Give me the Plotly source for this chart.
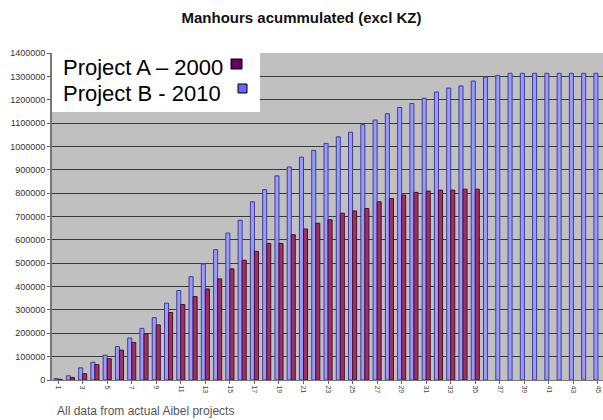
import plotly.graph_objects as go

# ---------------- data ----------------
categories = list(range(1, 46))
project_b_2010 = [6000, 18000, 52000, 76000, 106000, 143000, 180000, 221000, 267000, 329000,
                  383000, 442000, 497000, 558000, 629000, 684000, 763000, 815000, 874000, 912000,
                  954000, 983000, 1013000, 1041000, 1061000, 1093000, 1113000, 1140000, 1167000, 1184000,
                  1206000, 1233000, 1250000, 1259000, 1280000, 1297000, 1304000, 1313000, 1313000, 1313000,
                  1313000, 1313000, 1313000, 1313000, 1313000]
project_a_2000 = [3000, 11000, 27000, 66000, 91000, 128000, 161000, 198000, 236000, 289000,
                  323000, 357000, 390000, 433000, 476000, 513000, 551000, 585000, 585000, 622000,
                  647000, 671000, 686000, 714000, 724000, 734000, 763000, 777000, 792000, 803000,
                  809000, 813000, 813000, 817000, 817000]
x_tick_labels = [str(v) for v in range(1, 46, 2)]
y_tick_values = list(range(0, 1400001, 100000))

title_text = "Manhours acummulated (excl KZ)"
label_a = "Project A \u2013 2000"
label_b = "Project B - 2010"
footnote = "All data from actual Aibel projects"

# ---------------- layout geometry ----------------
W, H = 603, 420
L, R, T, B = 52, 0, 53, 40
PW, PH = W - L - R, H - T - B


def px(x):
    return (x - L) / PW


def py(y):
    return (H - B - y) / PH


FONT = "Liberation Sans, Arial, sans-serif"

fig = go.Figure()
fig.add_trace(go.Bar(
    x=categories[:len(project_b_2010)], y=project_b_2010, name=label_b,
    marker=dict(color="#9999ff", line=dict(color="#3f3f8f", width=1)),
))
fig.add_trace(go.Bar(
    x=categories[:len(project_a_2000)], y=project_a_2000, name=label_a,
    marker=dict(color="#993366", line=dict(color="#4a1030", width=1)),
))

fig.update_layout(
    width=W, height=H,
    margin=dict(l=L, r=R, t=T, b=B, pad=0),
    paper_bgcolor="white",
    plot_bgcolor="#c0c0c0",
    barmode="group",
    bargap=0.34,
    bargroupgap=0.0,
    showlegend=False,
    font=dict(family=FONT, color="#333333"),
    title=dict(text=title_text, x=0.5, xref="container", xanchor="center",
               y=1 - 18 / H, yref="container", yanchor="middle",
               font=dict(family=FONT, size=15, color="#111111", weight="bold")),
    xaxis=dict(
        range=[0.5, 45.41],
        tickmode="array",
        tickvals=list(range(1, 46, 2)),
        ticktext=x_tick_labels,
        tickangle=90,
        tickfont=dict(size=7, color="#444444"),
        ticks="outside", ticklen=3, tickcolor="#666666",
        ticklabeloverflow="allow",
        showgrid=False, zeroline=False,
        showline=True, linecolor="#777777", linewidth=1,
        automargin=False,
    ),
    yaxis=dict(
        range=[0, 1400000],
        tickmode="array",
        tickvals=y_tick_values,
        ticktext=[str(v) for v in y_tick_values],
        tickfont=dict(size=9, color="#333333"),
        ticks="outside", ticklen=3, tickcolor="#666666",
        showgrid=True, gridcolor="#3a3a3a", gridwidth=1.3,
        zeroline=False,
        showline=True, linecolor="#777777", linewidth=2,
        automargin=False,
    ),
)

# legend box drawn as a text box, like the original
fig.add_shape(type="rect", xref="paper", yref="paper",
              x0=px(52), x1=px(260), y0=py(112), y1=py(40),
              fillcolor="white", line=dict(width=0), layer="above")
fig.add_shape(type="rect", xref="paper", yref="paper",
              x0=px(231), x1=px(242), y0=py(69), y1=py(59),
              fillcolor="#660066", line=dict(color="black", width=1), layer="above")
fig.add_shape(type="rect", xref="paper", yref="paper",
              x0=px(238), x1=px(247), y0=py(93), y1=py(84),
              fillcolor="#6666ff", line=dict(color="black", width=1), layer="above")
fig.add_annotation(text=label_a, xref="paper", yref="paper", x=px(61), y=py(68),
                   xanchor="left", yanchor="middle", showarrow=False,
                   font=dict(family=FONT, size=22, color="black"))
fig.add_annotation(text=label_b, xref="paper", yref="paper", x=px(61), y=py(93),
                   xanchor="left", yanchor="middle", showarrow=False,
                   font=dict(family=FONT, size=22, color="black"))

fig.add_annotation(text=footnote, xref="paper", yref="paper", x=px(55), y=py(411),
                   xanchor="left", yanchor="middle", showarrow=False,
                   font=dict(family=FONT, size=12, color="#555555"))

fig.write_html("out.html", config={"displayModeBar": False},
               post_script="document.body.style.margin='0';document.body.style.overflow='hidden';")
